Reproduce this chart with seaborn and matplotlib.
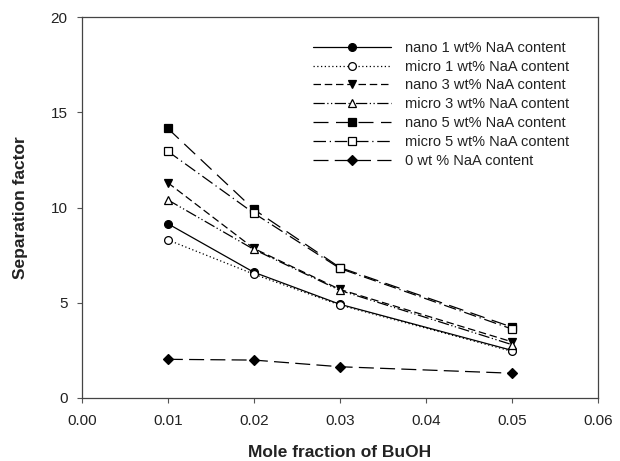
import matplotlib
matplotlib.use("Agg")
import matplotlib.pyplot as plt
import seaborn as sns
import pandas as pd

# Mole fraction of BuOH in feed
mole_fraction = [0.01, 0.02, 0.03, 0.05]

# Separation factor for each membrane
nano_1 = [9.15, 6.6, 4.92, 2.5]
micro_1 = [8.3, 6.5, 4.88, 2.45]
nano_3 = [11.3, 7.85, 5.7, 2.95]
micro_3 = [10.4, 7.8, 5.65, 2.8]
nano_5 = [14.15, 9.9, 6.85, 3.72]
micro_5 = [12.95, 9.7, 6.8, 3.62]
zero_naa = [2.03, 1.99, 1.64, 1.3]

labels = [
    "nano 1 wt% NaA content",
    "micro 1 wt% NaA content",
    "nano 3 wt% NaA content",
    "micro 3 wt% NaA content",
    "nano 5 wt% NaA content",
    "micro 5 wt% NaA content",
    "0 wt % NaA content",
]
series = [nano_1, micro_1, nano_3, micro_3, nano_5, micro_5, zero_naa]

# line dash patterns, marker shapes and fills for each series
styles = [
    dict(dashes=None, marker="o", filled=True, ms=5.6),
    dict(dashes=(1, 2), marker="o", filled=False, ms=5.6),
    dict(dashes=(6, 3), marker="v", filled=True, ms=6.3),
    dict(dashes=(9, 2, 1, 2, 1, 2), marker="^", filled=False, ms=6.3),
    dict(dashes=(12, 6), marker="s", filled=True, ms=5.4),
    dict(dashes=(10, 3, 1, 3), marker="s", filled=False, ms=5.4),
    dict(dashes=(12, 5), marker="D", filled=True, ms=5.4),
]

sns.set_style("ticks")
plt.rcParams["font.family"] = ["Liberation Sans", "DejaVu Sans"]

fig = plt.figure(figsize=(6.2, 4.61), dpi=100)
ax = fig.add_axes([0.132, 0.1367, 0.8325, 0.8263])

ink = "#222222"
for lab, vals, st in zip(labels, series, styles):
    df = pd.DataFrame({"x": mole_fraction, "y": vals})
    kw = dict(color="black", linewidth=0.9, marker=st["marker"],
              markersize=st["ms"], markeredgecolor="black",
              markeredgewidth=0.9,
              markerfacecolor="black" if st["filled"] else "white",
              label=lab)
    if st["dashes"] is not None:
        kw["dashes"] = st["dashes"]
    sns.lineplot(data=df, x="x", y="y", ax=ax, **kw)

ax.set_xlim(0, 0.06)
ax.set_ylim(0, 20)
ax.set_xticks([0.0, 0.01, 0.02, 0.03, 0.04, 0.05, 0.06])
ax.set_xticklabels(["0.00", "0.01", "0.02", "0.03", "0.04", "0.05", "0.06"])
ax.set_yticks([0, 5, 10, 15, 20])
ax.tick_params(direction="out", length=3.8, width=0.8, colors="#555555",
               labelcolor=ink, labelsize=11)
ax.tick_params(axis="x", pad=7.5)
ax.tick_params(axis="y", pad=6.5)
for sp in ax.spines.values():
    sp.set_visible(True)
    sp.set_color("#444444")
    sp.set_linewidth(0.9)

ax.set_xlabel("Mole fraction of BuOH", fontsize=12.5, fontweight="bold",
              color=ink, labelpad=12.5)
ax.set_ylabel("Separation factor", fontsize=12.5, fontweight="bold",
              color=ink, labelpad=16)

leg = ax.legend(loc="upper left", bbox_to_anchor=(0.436, 0.953),
                frameon=False, fontsize=10.5, handlelength=5.4,
                handletextpad=0.95, labelspacing=0.33, borderaxespad=0.0)
for t in leg.get_texts():
    t.set_color(ink)

fig.savefig("out.png", dpi=100)
